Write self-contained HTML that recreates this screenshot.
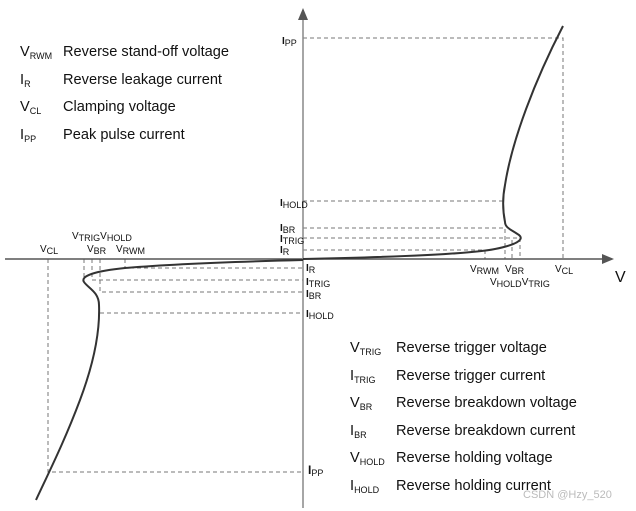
<!DOCTYPE html>
<html><head><style>
html,body{margin:0;padding:0;background:#fff;}
svg{display:block;font-family:"Liberation Sans",Arial,sans-serif;}
.l{font-size:14.6px;fill:#111;}
.s{font-size:9px;}
.a{font-size:10px;fill:#111;}
</style></head><body>
<svg width="636" height="511" viewBox="0 0 636 511">
<defs><marker id="ar" markerWidth="12" markerHeight="10" refX="10" refY="5" orient="auto" markerUnits="userSpaceOnUse"><path d="M0,0 L12,5 L0,10 Z" fill="#555"/></marker></defs>
<g stroke="#777" stroke-width="1" stroke-dasharray="4,3" fill="none">
<path d="M303,38H563V259"/>
<path d="M303,201H505"/>
<path d="M303,228H505V259"/>
<path d="M303,238H520V259"/>
<path d="M303,250H485V259"/>
<path d="M512,240V259"/>
<path d="M48,259V472H303"/>
<path d="M125,259V268H303"/>
<path d="M84,259V280"/>
<path d="M92,259V280H303"/>
<path d="M100,259V292H303"/>
<path d="M100,313H303"/>
</g>
<line x1="5" y1="259" x2="612" y2="259" stroke="#555" stroke-width="1.5" marker-end="url(#ar)"/>
<line x1="303" y1="508" x2="303" y2="10" stroke="#888" stroke-width="1.5" marker-end="url(#ar)"/>
<g stroke="#333" stroke-width="2" fill="none">
<path d="M303,259 C400,257 470,254 495,249 C515,245 525,240 519,235 C512,230 505,228 505,222 C503,212 502,200 505,185 C512,140 535,80 563,26"/>
<path d="M303,260 C220,262 160,265 125,268 C95,271 80,276 84,282 C88,288 99,292 99,305 C100,330 95,360 80,400 C65,440 50,470 36,500"/>
</g>
<g class="l">
<text x="20" y="56">V<tspan class="s" dy="3">RWM</tspan></text>
<text x="20" y="84">I<tspan class="s" dy="3">R</tspan></text>
<text x="20" y="111">V<tspan class="s" dy="3">CL</tspan></text>
<text x="20" y="139">I<tspan class="s" dy="3">PP</tspan></text>
<text x="63" y="56">Reverse stand-off voltage</text>
<text x="63" y="84">Reverse leakage current</text>
<text x="63" y="111">Clamping voltage</text>
<text x="63" y="139">Peak pulse current</text>
<text x="350" y="352">V<tspan class="s" dy="3">TRIG</tspan></text>
<text x="350" y="380">I<tspan class="s" dy="3">TRIG</tspan></text>
<text x="350" y="407">V<tspan class="s" dy="3">BR</tspan></text>
<text x="350" y="435">I<tspan class="s" dy="3">BR</tspan></text>
<text x="350" y="462">V<tspan class="s" dy="3">HOLD</tspan></text>
<text x="350" y="490">I<tspan class="s" dy="3">HOLD</tspan></text>
<text x="396" y="352">Reverse trigger voltage</text>
<text x="396" y="380">Reverse trigger current</text>
<text x="396" y="407">Reverse breakdown voltage</text>
<text x="396" y="435">Reverse breakdown current</text>
<text x="396" y="462">Reverse holding voltage</text>
<text x="396" y="490">Reverse holding current</text>
<text x="615" y="282" style="font-size:16px">V</text>
</g>
<g class="a">
<text x="282" y="44"><tspan font-weight="bold">I</tspan><tspan class="s" dy="2">PP</tspan></text>
<text x="280" y="206"><tspan font-weight="bold">I</tspan><tspan class="s" dy="2">HOLD</tspan></text>
<text x="280" y="231"><tspan font-weight="bold">I</tspan><tspan class="s" dy="2">BR</tspan></text>
<text x="280" y="242"><tspan font-weight="bold">I</tspan><tspan class="s" dy="2">TRIG</tspan></text>
<text x="280" y="253"><tspan font-weight="bold">I</tspan><tspan class="s" dy="2">R</tspan></text>
<text x="306" y="271"><tspan font-weight="bold">I</tspan><tspan class="s" dy="2">R</tspan></text>
<text x="306" y="285"><tspan font-weight="bold">I</tspan><tspan class="s" dy="2">TRIG</tspan></text>
<text x="306" y="297"><tspan font-weight="bold">I</tspan><tspan class="s" dy="2">BR</tspan></text>
<text x="306" y="317"><tspan font-weight="bold">I</tspan><tspan class="s" dy="2">HOLD</tspan></text>
<text x="308" y="474"><tspan font-weight="bold" style="font-size:12px">I</tspan><tspan class="s" dy="2">PP</tspan></text>
<text x="470" y="272">V<tspan class="s" dy="2">RWM</tspan></text>
<text x="505" y="272">V<tspan class="s" dy="2">BR</tspan></text>
<text x="555" y="272">V<tspan class="s" dy="2">CL</tspan></text>
<text x="490" y="285">V<tspan class="s" dy="2">HOLD</tspan><tspan dy="-2">V</tspan><tspan class="s" dy="2">TRIG</tspan></text>
<text x="40" y="252">V<tspan class="s" dy="2">CL</tspan></text>
<text x="87" y="252">V<tspan class="s" dy="2">BR</tspan></text>
<text x="116" y="252">V<tspan class="s" dy="2">RWM</tspan></text>
<text x="72" y="239">V<tspan class="s" dy="2">TRIG</tspan><tspan dy="-2">V</tspan><tspan class="s" dy="2">HOLD</tspan></text>
</g>
<text x="523" y="498" style="font-size:11px;fill:#bbb">CSDN @Hzy_520</text>
</svg>
</body></html>
